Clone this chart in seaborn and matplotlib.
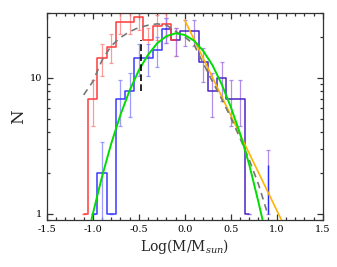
import numpy as np
import pandas as pd
import matplotlib
matplotlib.use('Agg')
import matplotlib.pyplot as plt
import matplotlib.ticker as mticker
import seaborn as sns

# --- histogram data (bin centres in log M, counts) ---
red_x = [-1.1, -1.0, -0.9, -0.8, -0.7, -0.6, -0.5, -0.4, -0.3, -0.2, -0.1]
red_n = [1, 7, 14, 17, 26, 26, 28, 19, 24, 25, 19]
red_err = [0, 2.6, 3.7, 4.1, 5.1, 5.1, 5.3, 4.4, 4.9, 5.0, 4.4]

blue_x = [-1.0, -0.9, -0.8, -0.7, -0.6, -0.5, -0.4, -0.3, -0.2]
blue_n = [1, 2, 1, 7, 8, 14, 14, 16, 23]
blue_err = [0, 1.4, 0, 2.6, 2.8, 3.7, 3.7, 4.0, 4.8]

indigo_x = [-0.2, -0.1, 0.0, 0.1, 0.2, 0.3, 0.4, 0.5, 0.6, 0.7]
indigo_n = [23, 19, 22, 22, 13, 8, 10, 7, 7, 1]
indigo_err = [4.8, 4.4, 4.7, 4.7, 3.6, 2.8, 3.2, 2.6, 2.6, 0]

tail_x = [0.9]
tail_n = [2]
tail_lo = [1.0]
tail_hi = [0.95]
tail_bar_lo, tail_bar_hi = 1.0, 2.3

# --- fitted curves ---
green_x = [-1.05, -1.0, -0.9, -0.8, -0.7, -0.6, -0.5, -0.4, -0.3, -0.2, -0.1,
           0.0, 0.1, 0.2, 0.3, 0.4, 0.5, 0.6, 0.7, 0.8, 0.9]
green_n = [0.71, 1.0, 1.88, 3.29, 5.35, 8.09, 11.4, 14.8, 18.0, 20.3, 21.3,
           20.7, 18.8, 15.8, 12.4, 9.0, 6.1, 3.9, 2.3, 1.22, 0.62]

gray_x = [-1.1, -1.0, -0.9, -0.8, -0.7, -0.6, -0.5, -0.4, -0.3, -0.2, -0.1,
          0.0, 0.1, 0.2, 0.3, 0.4, 0.5, 0.6, 0.7, 0.8, 0.9]
gray_n = [7.5, 9.4, 13.5, 17.2, 19.8, 21.9, 23.5, 24.4, 25.0, 24.5, 22.0,
          20.0, 17.6, 12.8, 9.4, 7.0, 5.1, 3.6, 2.5, 1.65, 1.0]

yellow_x = [0.0, 1.05]
yellow_n = [26.5, 0.9]

cut_x = -0.48
cut_lo, cut_hi = 8, 19

sns.set_theme(style='ticks')
plt.rcParams['font.family'] = ['DejaVu Serif']
plt.rcParams['mathtext.fontset'] = 'dejavuserif'
plt.rcParams['axes.unicode_minus'] = False

fig = plt.figure(figsize=(3.37, 2.67), dpi=100)
ax = fig.add_axes([0.139, 0.176, 0.819, 0.775])


def hist_df(x, n):
    return pd.DataFrame({'x': x, 'n': n})


# error bars underneath
bar_kw = dict(fmt='none', elinewidth=0.9, capsize=1.5, capthick=0.9, zorder=1, alpha=0.85)
ax.errorbar(red_x, red_n, yerr=red_err, ecolor='#ff8888', **bar_kw)
ax.errorbar(blue_x, blue_n, yerr=blue_err, ecolor='#8c8cff', **bar_kw)
ax.errorbar(indigo_x, indigo_n, yerr=indigo_err, ecolor='#a37ae6', **bar_kw)
ax.errorbar(tail_x, tail_n, yerr=[tail_lo, tail_hi], ecolor='#a37ae6', **bar_kw)
ax.vlines(tail_x, tail_bar_lo, tail_bar_hi, colors='#2a2aff', linewidth=1.0, zorder=2)

sns.lineplot(data=hist_df(indigo_x, indigo_n), x='x', y='n', ax=ax, color='#4b26c4',
             drawstyle='steps-mid', linewidth=1.1, estimator=None, sort=False, zorder=2)
sns.lineplot(data=hist_df(red_x, red_n), x='x', y='n', ax=ax, color='#ff3b3b',
             drawstyle='steps-mid', linewidth=1.1, estimator=None, sort=False, zorder=2)
sns.lineplot(data=hist_df(blue_x, blue_n), x='x', y='n', ax=ax, color='#3a3aff',
             drawstyle='steps-mid', linewidth=1.1, estimator=None, sort=False, zorder=2)

sns.lineplot(data=hist_df(yellow_x, yellow_n), x='x', y='n', ax=ax, color='#ffb400',
             linewidth=1.2, estimator=None, sort=False, zorder=3)
sns.lineplot(data=hist_df(gray_x, gray_n), x='x', y='n', ax=ax, color='#777777',
             linewidth=1.2, linestyle=(0, (4, 3)), estimator=None, sort=False, zorder=3)
sns.lineplot(data=hist_df(green_x, green_n), x='x', y='n', ax=ax, color='#00dd00',
             linewidth=1.4, estimator=None, sort=False, zorder=4)
ax.vlines(cut_x, cut_lo, cut_hi, colors='black', linestyles=(0, (4, 2)),
          linewidth=1.2, zorder=4)

ax.set_yscale('log')
ax.set_xlim(-1.5, 1.5)
ax.set_ylim(0.9, 30)

ax.xaxis.set_major_locator(mticker.MultipleLocator(0.5))
ax.xaxis.set_minor_locator(mticker.MultipleLocator(0.1))
ax.xaxis.set_major_formatter(mticker.FormatStrFormatter('%.1f'))
ax.yaxis.set_major_locator(mticker.LogLocator(base=10, numticks=5))
ax.yaxis.set_minor_locator(mticker.LogLocator(base=10, subs=np.arange(2, 10), numticks=20))
ax.yaxis.set_major_formatter(mticker.FormatStrFormatter('%g'))
ax.yaxis.set_minor_formatter(mticker.NullFormatter())

ax.tick_params(which='both', direction='in', top=True, right=True,
               labelsize=7, colors='#333333', labelcolor='black', width=0.9)
ax.tick_params(which='major', length=4.5)
ax.tick_params(which='minor', length=2.3)
for s in ax.spines.values():
    s.set_color('#333333')
    s.set_linewidth(0.9)

ax.set_xlabel(r'Log(M/M$_{\mathit{sun}}$)', fontsize=10, labelpad=2)
ax.set_ylabel('N', fontsize=12, labelpad=2)

fig.savefig('out.png', dpi=100)
